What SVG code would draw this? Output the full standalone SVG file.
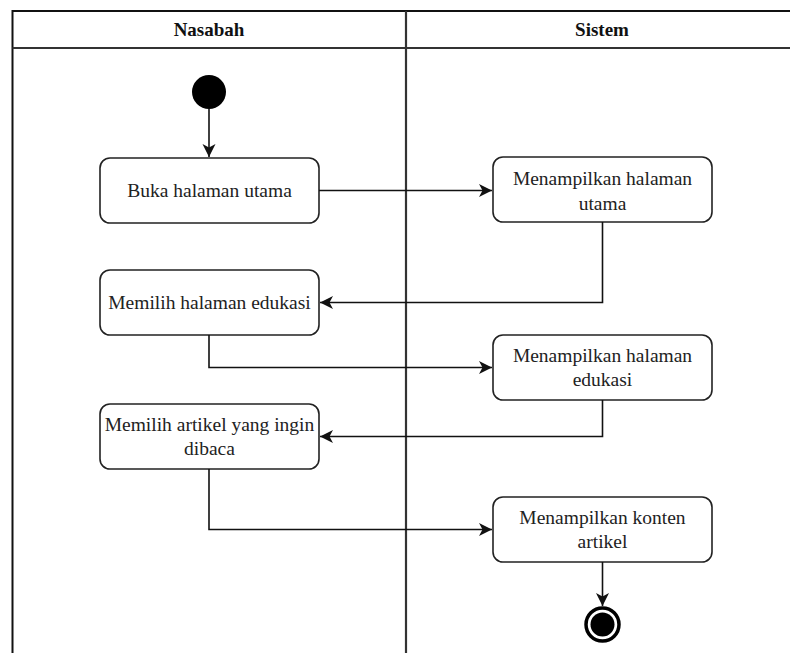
<svg xmlns="http://www.w3.org/2000/svg" width="790" height="653" viewBox="0 0 790 653">
  <style>
    .frame { fill: none; stroke: #111; stroke-width: 2; }
    .lane { fill: none; stroke: #333; stroke-width: 2.2; }
    .head { font-size: 19px; font-weight: bold; fill: #111; text-anchor: middle; }
    .act rect { fill: #fff; stroke: #222; stroke-width: 1.6; }
    .act text { font-size: 19.5px; fill: #222; text-anchor: middle; }
    .edge { fill: none; stroke: #111; stroke-width: 1.6; }
  </style>
  <defs>
    <marker id="arrow" markerUnits="userSpaceOnUse" markerWidth="14" markerHeight="14" viewBox="0 0 14 14" refX="13" refY="7" orient="auto">
      <path d="M0,0.5 L13,7 L0,13.5 L3.5,7 Z" fill="#111"/>
    </marker>
  </defs>

  <rect width="790" height="653" fill="#fff"/>

  <g font-family="Liberation Serif, Times New Roman, serif">
  <!-- swimlane frame -->
  <g id="swimlanes">
    <path class="frame" d="M12.5,653 V11 H790"/>
    <line class="lane" x1="12.5" y1="48" x2="790" y2="48"/>
    <line class="lane" x1="406" y1="11" x2="406" y2="653"/>
    <text class="head" x="209" y="36">Nasabah</text>
    <text class="head" x="602" y="36">Sistem</text>
  </g>

  <!-- start / end -->
  <g id="start">
    <circle cx="209" cy="92" r="17" fill="#000"/>
  </g>
  <g id="end">
    <circle cx="602.5" cy="624.5" r="16.5" fill="#fff" stroke="#000" stroke-width="3.5"/>
    <circle cx="602.5" cy="624.5" r="12" fill="#000"/>
  </g>

  <!-- activities -->
  <g id="buka-halaman-utama" class="act">
    <rect x="100" y="158" width="219" height="65" rx="10"/>
    <text x="209.5" y="197">Buka halaman utama</text>
  </g>
  <g id="menampilkan-halaman-utama" class="act">
    <rect x="493" y="157" width="219" height="65" rx="10"/>
    <text x="602.5" y="185">Menampilkan halaman</text>
    <text x="602.5" y="209.5">utama</text>
  </g>
  <g id="memilih-halaman-edukasi" class="act">
    <rect x="100" y="270" width="219" height="65" rx="10"/>
    <text x="209.5" y="309">Memilih halaman edukasi</text>
  </g>
  <g id="menampilkan-halaman-edukasi" class="act">
    <rect x="493" y="335" width="219" height="65" rx="10"/>
    <text x="602.5" y="361.5">Menampilkan halaman</text>
    <text x="602.5" y="385.5">edukasi</text>
  </g>
  <g id="memilih-artikel" class="act">
    <rect x="100" y="404" width="219" height="65" rx="10"/>
    <text x="209.5" y="430.5">Memilih artikel yang ingin</text>
    <text x="209.5" y="454.5">dibaca</text>
  </g>
  <g id="menampilkan-konten-artikel" class="act">
    <rect x="493" y="497" width="219" height="65" rx="10"/>
    <text x="602.5" y="524">Menampilkan konten</text>
    <text x="602.5" y="548">artikel</text>
  </g>
  </g>

  <!-- connectors -->
  <g id="connectors">
    <path class="edge" d="M209,109 V157" marker-end="url(#arrow)"/>
    <path class="edge" d="M319,190.5 H492" marker-end="url(#arrow)"/>
    <path class="edge" d="M602.5,222 V302.5 H320" marker-end="url(#arrow)"/>
    <path class="edge" d="M209,335 V367.5 H492" marker-end="url(#arrow)"/>
    <path class="edge" d="M602.5,400 V436.5 H320" marker-end="url(#arrow)"/>
    <path class="edge" d="M209,469 V529.5 H492" marker-end="url(#arrow)"/>
    <path class="edge" d="M602.5,562 V606" marker-end="url(#arrow)"/>
  </g>
</svg>
